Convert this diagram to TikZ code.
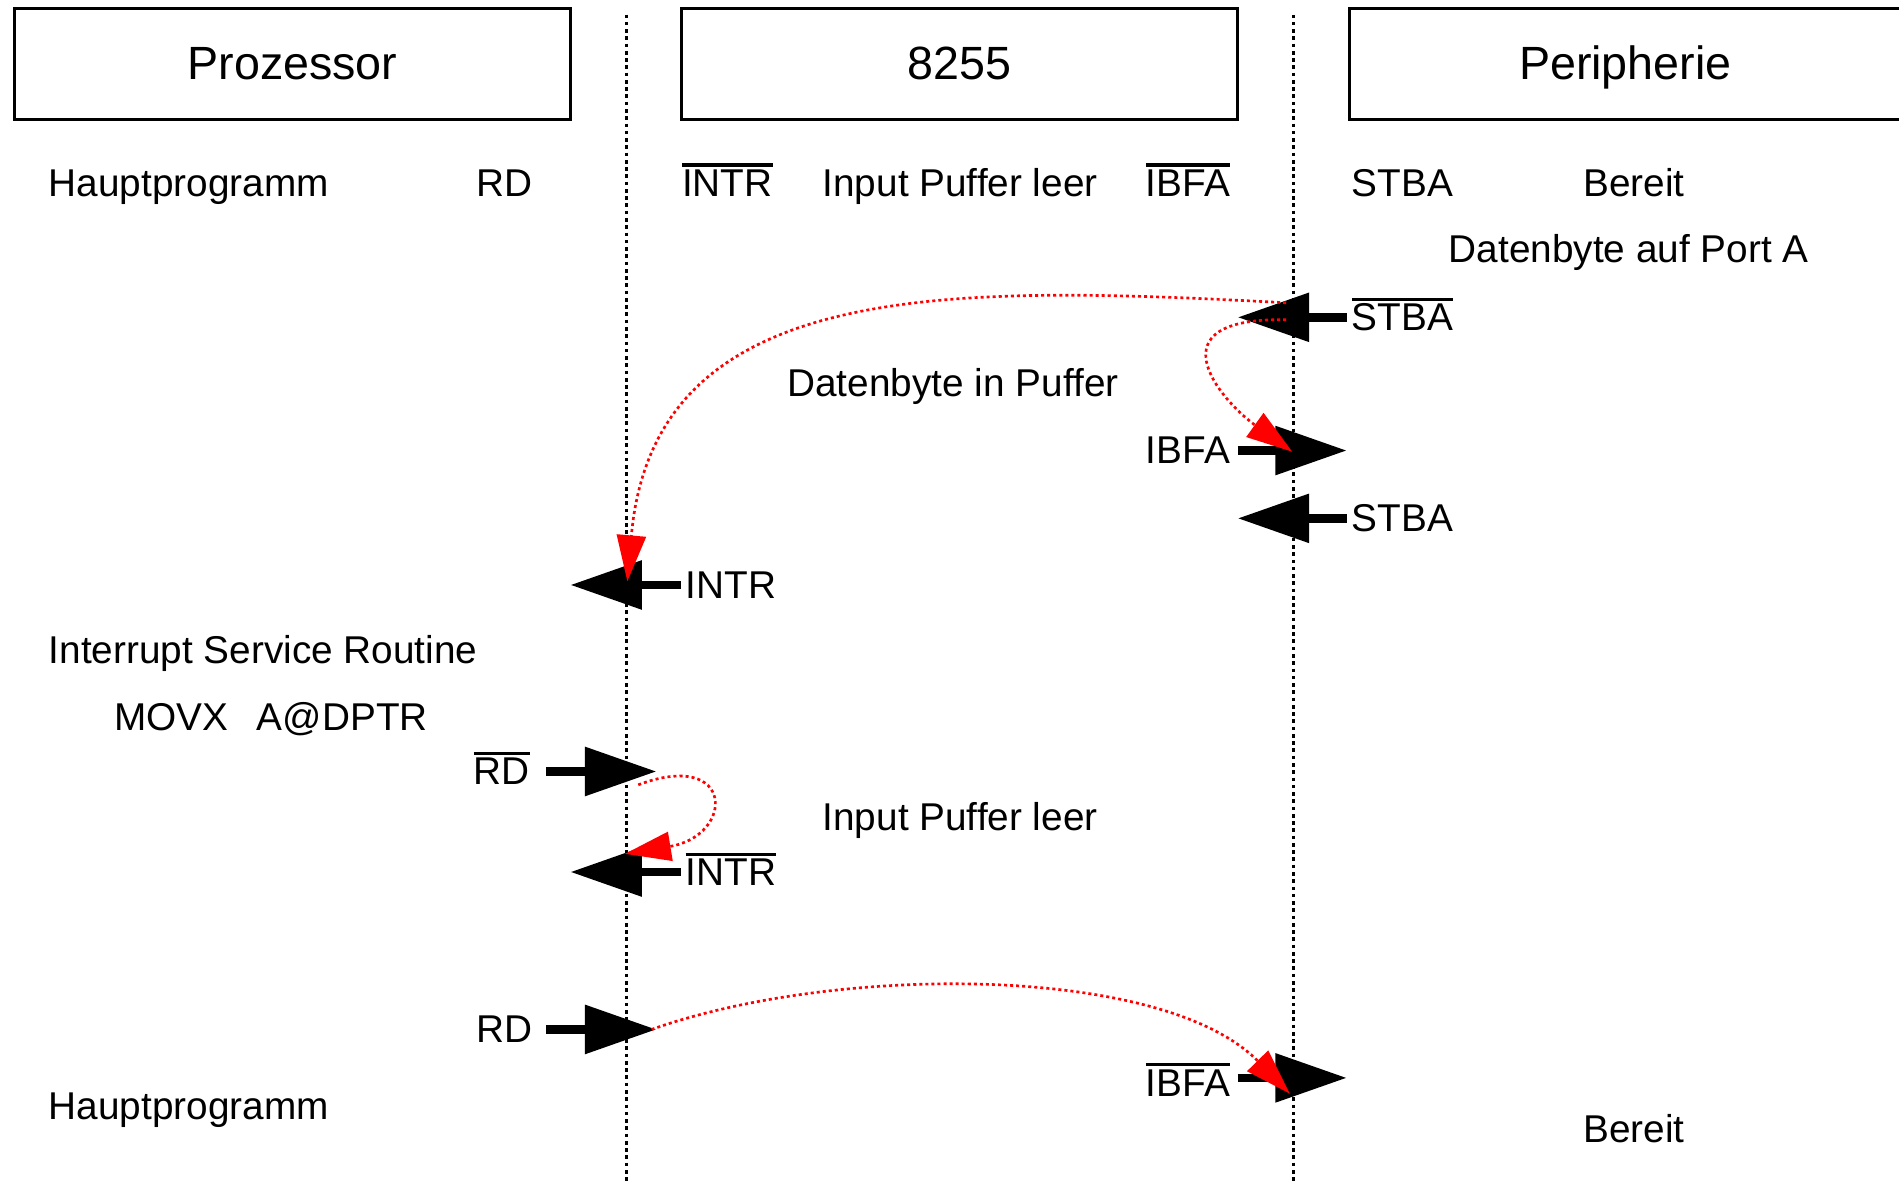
\documentclass[tikz,border=0pt]{standalone}
\usepackage{fontspec}
\setmainfont{Liberation Sans}
\usetikzlibrary{arrows.meta}
\newcommand\ovl[1]{\vbox{\hrule height 2.5pt\kern 2.5pt\hbox{#1}}}
\tikzset{
  lbl/.style={anchor=base west, inner sep=0pt, font=\fontsize{32}{38}\selectfont},
  box/.style={draw, line width=2.5pt, minimum width=459pt, minimum height=92pt,
              text height=28pt, text depth=3pt, inner sep=0pt,
              font=\fontsize{38.5}{46}\selectfont},
  lane/.style={line width=2.4pt, dash pattern=on 3pt off 3pt},
  sig/.style={line width=7pt, -{Triangle[length=59pt,width=39pt]}},
  flow/.style={red, line width=2.2pt, dash pattern=on 2.5pt off 2.5pt,
               -{Triangle[length=38pt,width=24pt]}}
}
\begin{document}
\begin{tikzpicture}[x=1pt,y=-1pt]
\useasboundingbox (0,0) rectangle (1568,975);
% header boxes
\node[box] (proz) at (241.5,53) {Prozessor};
\node[box] (chip) at (792.5,53) {8255};
\node[box, minimum width=456pt] (peri) at (1342,53) {Peripherie};
% lanes
\coordinate (l1t) at (517,12);  \coordinate (l1b) at (517,975);
\coordinate (l2t) at (1068,12); \coordinate (l2b) at (1068,975);
\draw[lane] (l1t) -- (l1b);
\draw[lane] (l2t) -- (l2b);
% row 1
\node[lbl] (hp1) at (40,162) {Hauptprogramm};
\node[lbl] (rd1) at (393,162) {RD};
\node[lbl] (intr1) at (563,162) {\ovl{INTR}};
\node[lbl] (ipl1) at (679,162) {Input Puffer leer};
\node[lbl] (ibfa1) at (946,162) {\ovl{IBFA}};
\node[lbl] (stba1) at (1116,162) {STBA};
\node[lbl] (ber1) at (1307,162) {Bereit};
\node[lbl] (dport) at (1196,217) {Datenbyte auf Port A};
% signals
\node[lbl] (stbab) at (1116,273) {\ovl{STBA}};
\node[lbl] (dpuf) at (650,327) {Datenbyte in Puffer};
\node[lbl] (ibfa2) at (946,383) {IBFA};
\node[lbl] (stba2) at (1116,439) {STBA};
\node[lbl] (intr2) at (566,494) {INTR};
\node[lbl] (isr) at (40,548) {Interrupt Service Routine};
\node[lbl] (movx) at (94,603) {MOVX};
\node[lbl] (adptr) at (212,603) {A@DPTR};
\node[lbl] (rdb) at (391,648) {\ovl{RD}};
\node[lbl] (ipl2) at (679,686) {Input Puffer leer};
\node[lbl] (intrb) at (566,731) {\ovl{INTR}};
\node[lbl] (rd2) at (393,861) {RD};
\node[lbl] (ibfab) at (946,905) {\ovl{IBFA}};
\node[lbl] (hp2) at (40,924) {Hauptprogramm};
\node[lbl] (ber2) at (1307,943) {Bereit};
% black signal arrows
\coordinate (a1s) at (1112,262); \coordinate (a1e) at (1022,262);
\coordinate (a2s) at (1022,372); \coordinate (a2e) at (1112,372);
\coordinate (a3s) at (1112,428); \coordinate (a3e) at (1022,428);
\coordinate (a4s) at (562,483);  \coordinate (a4e) at (471,483);
\coordinate (a5s) at (451,637);  \coordinate (a5e) at (542,637);
\coordinate (a6s) at (562,720);  \coordinate (a6e) at (471,720);
\coordinate (a7s) at (451,850);  \coordinate (a7e) at (542,850);
\coordinate (a8s) at (1022,890); \coordinate (a8e) at (1112,890);
\draw[sig] (a1s) -- (a1e);
\draw[sig] (a2s) -- (a2e);
\draw[sig] (a3s) -- (a3e);
\draw[sig] (a4s) -- (a4e);
\draw[sig] (a5s) -- (a5e);
\draw[sig] (a6s) -- (a6e);
\draw[sig] (a7s) -- (a7e);
\draw[sig] (a8s) -- (a8e);
% red causal curves
\coordinate (c1s) at (1062,250); \coordinate (c1e) at (518,480);
\coordinate (c2s) at (1062,264); \coordinate (c2e) at (1067,373);
\coordinate (c3s) at (527,648);  \coordinate (c3e) at (516,705);
\coordinate (c4s) at (538,850);  \coordinate (c4e) at (1065,903);
\draw[flow] (c1s) .. controls (780,235) and (540,230) .. (c1e);
\draw[flow] (c2s) .. controls (950,262) and (1007,330) .. (c2e);
\draw[flow] (c3s) .. controls (607,618) and (607,690) .. (c3e);
\draw[flow] (c4s) .. controls (690,796) and (960,796) .. (c4e);
\end{tikzpicture}
\end{document}
